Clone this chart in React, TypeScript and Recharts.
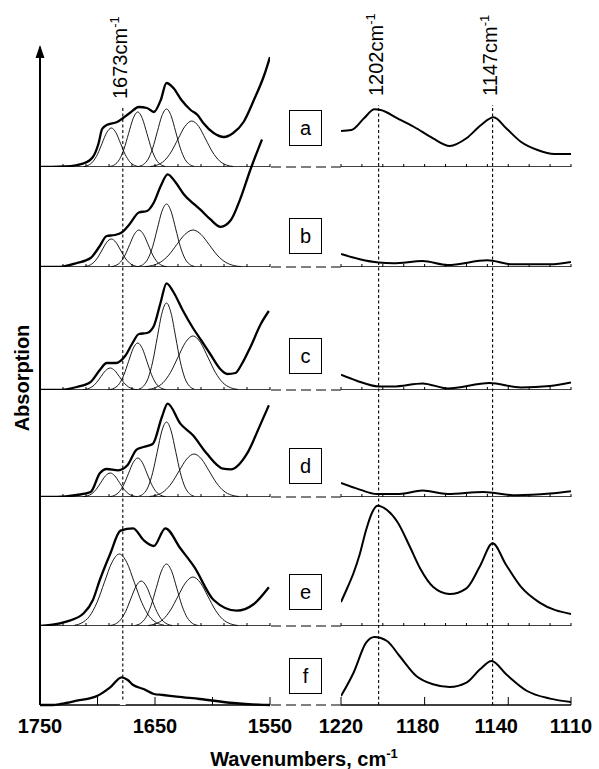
import React from 'react';
import { LineChart, Line, XAxis, YAxis, ReferenceLine } from 'recharts';

type Pt = [number, number];

const FONT = '"Liberation Sans", Arial, Helvetica, sans-serif';

// ---------- axes / ticks ----------
const LEFT_DOMAIN: [number, number] = [1550, 1750];
const RIGHT_DOMAIN: [number, number] = [1110, 1220];
const LEFT_MINOR = [1750, 1730, 1710, 1690, 1670, 1650, 1630, 1610, 1590, 1570, 1550];
const RIGHT_MINOR = [1220, 1210, 1200, 1190, 1180, 1170, 1160, 1150, 1140, 1130, 1120, 1110];
const LEFT_MAJOR = [1700, 1650, 1600, 1550];
const RIGHT_MAJOR = [1220, 1180, 1140, 1110];
const LEFT_LABELS = [1750, 1650, 1550];
const RIGHT_LABELS = [1220, 1180, 1140, 1110];
const PANEL_NAMES = ['a', 'b', 'c', 'd', 'e', 'f'];

// marker lines (position where drawn, label as printed)
const MARKER_LEFT = [1678];
const MARKER_LEFT_TEXT = ['1673'];
const MARKERS_RIGHT = [1202, 1147.5];
const MARKERS_RIGHT_TEXT = ['1202', '1147'];

// ---------- panel a ----------
const A_TOTAL: Pt[] = [[1750,0],[1740,0],[1728,0.5],[1712,3.7],[1704,10],[1699,24],[1696,38],[1692,42],[1683,45],[1672,54],[1664,60],[1657,59],[1651,55],[1645,67],[1640,84],[1634,79],[1627,67],[1619,57],[1613,52],[1608,44],[1599,34],[1590,30],[1582,34],[1573,45],[1564,67],[1555,92],[1550,110]];
const A_C1: Pt[] = [[1712,0.4],[1708,1.7],[1704,5.3],[1700,12.7],[1696,23.7],[1692,34.4],[1688,39],[1684,34.4],[1680,23.7],[1676,12.7],[1672,5.3],[1668,1.7],[1664,0.4]];
const A_C2: Pt[] = [[1689,0.6],[1685,2.4],[1681,7.4],[1677,17.9],[1673,33.4],[1669,48.5],[1665,55],[1661,48.5],[1657,33.4],[1653,17.9],[1649,7.4],[1645,2.4],[1641,0.6]];
const A_C3: Pt[] = [[1664,0.6],[1660,2.6],[1656,7.8],[1652,18.9],[1648,35.2],[1644,51.2],[1640,58],[1636,51.2],[1632,35.2],[1628,18.9],[1624,7.8],[1620,2.6],[1616,0.6]];
const A_C4: Pt[] = [[1654,0.5],[1648,2],[1642,6.2],[1636,15],[1630,27.9],[1624,40.6],[1618,46],[1612,40.6],[1606,27.9],[1600,15],[1594,6.2],[1588,2],[1582,0.5]];
const A_RIGHT: Pt[] = [[1220,36],[1215,37],[1209,48.7],[1204,57.7],[1201,57],[1193,48.7],[1185,40],[1176,28.7],[1168,21],[1160,28.7],[1153,42],[1147,49.7],[1141,38.7],[1134,25.3],[1126,17],[1118,13],[1110,13]];

// ---------- panel b ----------
const B_TOTAL: Pt[] = [[1750,0],[1735,0],[1718,4],[1706,9],[1698,21],[1692,31],[1685,32],[1679,34.5],[1672,43],[1664,54.5],[1657,56],[1651,64.5],[1645,81],[1639,92.7],[1632,84.5],[1625,72.8],[1616,62.8],[1611,57.8],[1602,47.8],[1593,40.2],[1584,47],[1576,67.6],[1567,97.5],[1557,127.5]];
const B_C1: Pt[] = [[1712,0.3],[1708,1.2],[1704,3.8],[1700,9.1],[1696,17],[1692,24.7],[1688,28],[1684,24.7],[1680,17],[1676,9.1],[1672,3.8],[1668,1.2],[1664,0.3]];
const B_C2: Pt[] = [[1688,0.4],[1684,1.6],[1680,5],[1676,12],[1672,22.5],[1668,32.6],[1664,37],[1660,32.6],[1656,22.5],[1652,12],[1648,5],[1644,1.6],[1640,0.4]];
const B_C3: Pt[] = [[1664,0.7],[1660,2.8],[1656,8.5],[1652,20.5],[1648,38.2],[1644,55.6],[1640,63],[1636,55.6],[1632,38.2],[1628,20.5],[1624,8.5],[1620,2.8],[1616,0.7]];
const B_C4: Pt[] = [[1659,0.4],[1652,1.6],[1645,5],[1638,12],[1631,22.5],[1624,32.6],[1617,37],[1610,32.6],[1603,22.5],[1596,12],[1589,5],[1582,1.6],[1575,0.4]];
const B_RIGHT: Pt[] = [[1220,13],[1211,7.7],[1202,4.4],[1195,3.7],[1181,6],[1169,2],[1150,6.7],[1138,2.7],[1120,2.7],[1110,5]];

// ---------- panel c ----------
const C_TOTAL: Pt[] = [[1750,0],[1735,0],[1718,3],[1706,8],[1698,20],[1692,27],[1684,27],[1676,34],[1670,46],[1664,56],[1657,57],[1651,64],[1645,88],[1640,106.7],[1634,98],[1626,80],[1617,62],[1610,50],[1602,36],[1594,22],[1587,16],[1580,17],[1575,25],[1567,43],[1558,66],[1551,79]];
const C_C1: Pt[] = [[1713,0.2],[1709,1],[1705,3],[1701,7.2],[1697,13.4],[1693,19.4],[1689,22],[1685,19.4],[1681,13.4],[1677,7.2],[1673,3],[1669,1],[1665,0.2]];
const C_C2: Pt[] = [[1689,0.5],[1685,2.1],[1681,6.3],[1677,15.3],[1673,28.5],[1669,41.5],[1665,47],[1661,41.5],[1657,28.5],[1653,15.3],[1649,6.3],[1645,2.1],[1641,0.5]];
const C_C3: Pt[] = [[1664,1],[1660,3.8],[1656,11.7],[1652,28.3],[1648,52.8],[1644,76.7],[1640,87],[1636,76.7],[1632,52.8],[1628,28.3],[1624,11.7],[1620,3.8],[1616,1]];
const C_C4: Pt[] = [[1656,0.6],[1649.5,2.4],[1643,7.3],[1636.5,17.6],[1630,32.8],[1623.5,47.6],[1617,54],[1610.5,47.6],[1604,32.8],[1597.5,17.6],[1591,7.3],[1584.5,2.4],[1578,0.6]];
const C_RIGHT: Pt[] = [[1220,15.3],[1212.5,9.3],[1202,3.6],[1195,3.6],[1181,6.6],[1169,1.6],[1149,7],[1134,2.6],[1120,4],[1110,7.6]];

// ---------- panel d ----------
const D_TOTAL: Pt[] = [[1750,0],[1735,0],[1718,2],[1706,5],[1698,23.7],[1692,28],[1682,26.7],[1674,31.7],[1666,47.4],[1660,50],[1652,53],[1644,80],[1639,93.4],[1628,73.4],[1617,61.7],[1605,43.4],[1591,28.4],[1584,27.7],[1570,43.4],[1558,73.4],[1551,91.7]];
const D_C1: Pt[] = [[1713,0.3],[1709,1.1],[1705,3.2],[1701,7.8],[1697,14.6],[1693,21.2],[1689,24],[1685,21.2],[1681,14.6],[1677,7.8],[1673,3.2],[1669,1.1],[1665,0.3]];
const D_C2: Pt[] = [[1689,0.4],[1685,1.7],[1681,5.3],[1677,12.7],[1673,23.7],[1669,34.4],[1665,39],[1661,34.4],[1657,23.7],[1653,12.7],[1649,5.3],[1645,1.7],[1641,0.4]];
const D_C3: Pt[] = [[1664,0.8],[1660,3.3],[1656,10.1],[1652,24.4],[1648,45.5],[1644,66.2],[1640,75],[1636,66.2],[1632,45.5],[1628,24.4],[1624,10.1],[1620,3.3],[1616,0.8]];
const D_C4: Pt[] = [[1655,0.5],[1648.5,1.9],[1642,5.8],[1635.5,14],[1629,26.1],[1622.5,37.9],[1616,43],[1609.5,37.9],[1603,26.1],[1596.5,14],[1590,5.8],[1583.5,1.9],[1577,0.5]];
const D_RIGHT: Pt[] = [[1220,14],[1211,7.4],[1203,3],[1192,3],[1181,6.4],[1169,3],[1152,5],[1136,1.7],[1120,3.4],[1110,5.7]];

// ---------- panel e ----------
const E_TOTAL: Pt[] = [[1750,0],[1741,1],[1727,4.3],[1712,12.7],[1704,26],[1698,46],[1689,72],[1680,95.3],[1669,97.7],[1660,86],[1651,80],[1641,97.7],[1628,77.7],[1616,59.3],[1599,26],[1579,15.3],[1564,22],[1551,38.7]];
const E_C1: Pt[] = [[1720,0.8],[1713.5,3.2],[1707,9.7],[1700.5,23.4],[1694,43.7],[1687.5,63.5],[1681,72],[1674.5,63.5],[1668,43.7],[1661.5,23.4],[1655,9.7],[1648.5,3.2],[1642,0.8]];
const E_C2: Pt[] = [[1689,0.5],[1684.5,2],[1680,6.1],[1675.5,14.6],[1671,27.3],[1666.5,39.7],[1662,45],[1657.5,39.7],[1653,27.3],[1648.5,14.6],[1644,6.1],[1639.5,2],[1635,0.5]];
const E_C3: Pt[] = [[1667,0.7],[1662.5,2.7],[1658,8.4],[1653.5,20.2],[1649,37.6],[1644.5,54.7],[1640,62],[1635.5,54.7],[1631,37.6],[1626.5,20.2],[1622,8.4],[1617.5,2.7],[1613,0.7]];
const E_C4: Pt[] = [[1656,0.5],[1649.5,2.2],[1643,6.6],[1636.5,15.9],[1630,29.7],[1623.5,43.2],[1617,49],[1610.5,43.2],[1604,29.7],[1597.5,15.9],[1591,6.6],[1584.5,2.2],[1578,0.5]];
const E_RIGHT: Pt[] = [[1220,24],[1217,38],[1214,53],[1211,72],[1208,96],[1205,114],[1202.5,120.3],[1198,116],[1193,104],[1187,79],[1182,57],[1176,39.3],[1168,32],[1160,37.7],[1153.5,60],[1147.5,82.7],[1141,61],[1134,39.3],[1125,23.3],[1110,12]];

// ---------- panel f ----------
const F_TOTAL: Pt[] = [[1750,0],[1739,0],[1732,1],[1718,4.3],[1700,9.3],[1689,17.7],[1679,27.7],[1674,25.3],[1669,20],[1660,16],[1651,11],[1643,10],[1631,8.3],[1611,6],[1582,2],[1560,0.3],[1550,0]];
const F_RIGHT: Pt[] = [[1220,9],[1214,32.3],[1208,62.3],[1204,68],[1198,64],[1192,49],[1184,29],[1176,20.7],[1168,18],[1160,22.3],[1153.5,35.7],[1148,44],[1141,30.7],[1131,14],[1120,6.4],[1110,3]];

const PANELS = [
  { left: A_TOTAL, bands: [A_C1, A_C2, A_C3, A_C4], right: A_RIGHT },
  { left: B_TOTAL, bands: [B_C1, B_C2, B_C3, B_C4], right: B_RIGHT },
  { left: C_TOTAL, bands: [C_C1, C_C2, C_C3, C_C4], right: C_RIGHT },
  { left: D_TOTAL, bands: [D_C1, D_C2, D_C3, D_C4], right: D_RIGHT },
  { left: E_TOTAL, bands: [E_C1, E_C2, E_C3, E_C4], right: E_RIGHT },
  { left: F_TOTAL, bands: [] as Pt[][], right: F_RIGHT },
];

// ---------- layout ----------
const BASELINES = [167, 267, 390, 497, 626, 705];
const BOX_TOPS = [110, 218, 338, 448, 574, 658];
const H = 130;
const PAD = 30;
const LEFT_X = 40;
const RIGHT_X = 341;
const PW = 230;
// small horizontal nudges of printed labels, as they sit in the original figure
const LABEL_NUDGE: Record<number, number> = { 1180: -7, 1140: -12 };

const toPts = (arr: Pt[]) => arr.map(([w, h]) => ({ w, h }));

const EmptyTick = () => <g />;

const LabelTick = (props: any) => {
  const { x, y, payload } = props;
  const v = payload?.value;
  const dx = LABEL_NUDGE[v] || 0;
  return (
    <text x={x + dx} y={y} dy={15} textAnchor="middle" fill="#000" fontSize={20} fontWeight={700} fontFamily={FONT}>
      {v}
    </text>
  );
};

function Panel({ side, i }: { side: 'L' | 'R'; i: number }) {
  const p = PANELS[i];
  const isL = side === 'L';
  const last = i === PANELS.length - 1;
  const base = BASELINES[i];
  const extra = last ? 40 : 0;
  const domain = isL ? LEFT_DOMAIN : RIGHT_DOMAIN;
  const ticks = last ? (isL ? LEFT_MAJOR : RIGHT_MAJOR) : isL ? LEFT_MINOR : RIGHT_MINOR;
  const total = isL ? p.left : p.right;
  return (
    <div style={{ position: 'absolute', left: (isL ? LEFT_X : RIGHT_X) - PAD, top: base - H }}>
      <LineChart width={PW + 2 * PAD} height={H + extra} margin={{ top: 0, right: PAD, bottom: 0, left: PAD }}>
        <XAxis
          type="number"
          dataKey="w"
          domain={domain}
          allowDataOverflow
          reversed
          ticks={ticks}
          interval={0}
          mirror
          tick={EmptyTick}
          tickSize={last ? 8 : 3}
          stroke="#000"
          axisLine={{ stroke: '#000', strokeWidth: 1.4 }}
          tickLine={{ stroke: '#000', strokeWidth: 1 }}
        />
        {last && (
          <XAxis
            xAxisId="lab"
            type="number"
            dataKey="w"
            domain={domain}
            allowDataOverflow
            reversed
            ticks={isL ? LEFT_LABELS : RIGHT_LABELS}
            interval={0}
            axisLine={false}
            tickLine={false}
            tickSize={0}
            tickMargin={13}
            height={extra}
            tick={LabelTick}
          />
        )}
        <YAxis type="number" domain={[0, H]} hide />
        {isL &&
          p.bands.map((b, k) => (
            <Line
              key={k}
              data={toPts(b)}
              dataKey="h"
              type="monotone"
              stroke="#000"
              strokeWidth={0.9}
              dot={false}
              activeDot={false}
              isAnimationActive={false}
            />
          ))}
        <Line
          data={toPts(total)}
          dataKey="h"
          type="monotone"
          stroke="#000"
          strokeWidth={isL ? 2.3 : 2}
          dot={false}
          activeDot={false}
          isAnimationActive={false}
        />
      </LineChart>
    </div>
  );
}

const markerLabel = (text: string) => (props: any) => {
  const vb = props.viewBox || { x: 0, y: 0 };
  const px = vb.x + 4.5;
  const py = vb.y - 9;
  return (
    <text x={px} y={py} transform={`rotate(-90 ${px} ${py})`} fill="#000" fontSize={20} fontFamily={FONT}>
      {text}cm
      <tspan dy={-8} fontSize={13}>
        -1
      </tspan>
    </text>
  );
};

const axisTitle = (props: any) => {
  const vb = props.viewBox || { x: 0, y: 47, width: 40, height: 658 };
  const ax = vb.x + vb.width;
  const cx = vb.x + 28.5;
  const cy = vb.y + vb.height / 2 + 2;
  return (
    <g>
      <polygon points={`${ax - 4.5},${vb.y + 11} ${ax},${vb.y - 2} ${ax + 4.5},${vb.y + 11}`} fill="#000" />
      <text
        x={cx}
        y={cy}
        transform={`rotate(-90 ${cx} ${cy})`}
        textAnchor="middle"
        fontSize={20}
        fontWeight={700}
        fontFamily={FONT}
        fill="#000"
      >
        Absorption
      </text>
    </g>
  );
};

function Connector({ y }: { y: number }) {
  return (
    <svg style={{ position: 'absolute', left: LEFT_X + PW + 1, top: y - 2 }} width={RIGHT_X - LEFT_X - PW - 1} height={4}>
      <line x1={0} y1={2} x2={RIGHT_X - LEFT_X - PW - 1} y2={2} stroke="#555" strokeWidth={1.5} strokeDasharray="10 5" />
    </svg>
  );
}

function MarkerOverlay({
  left,
  top,
  domain,
  markers,
  texts,
}: {
  left: number;
  top: number;
  domain: [number, number];
  markers: number[];
  texts: string[];
}) {
  const data = markers.map((w) => ({ w, h: 0 }));
  return (
    <div style={{ position: 'absolute', left: left - PAD, top: 0 }}>
      <LineChart width={PW + 2 * PAD} height={BASELINES[5]} data={data} margin={{ top, left: PAD, right: PAD, bottom: 0 }}>
        <XAxis type="number" dataKey="w" domain={domain} allowDataOverflow reversed hide />
        <YAxis type="number" domain={[0, 1]} allowDataOverflow hide />
        <Line dataKey="h" stroke="none" dot={false} activeDot={false} isAnimationActive={false} />
        {markers.map((m, k) => (
          <ReferenceLine
            key={k}
            x={m}
            stroke="#000"
            strokeWidth={1.1}
            strokeDasharray="3 2.5"
            ifOverflow="visible"
            label={markerLabel(texts[k])}
          />
        ))}
      </LineChart>
    </div>
  );
}

export default function App() {
  return (
    <div style={{ position: 'absolute', left: 0, top: 0, width: 599, height: 769, background: '#fff', fontFamily: FONT }}>
      {/* y axis with arrow and title */}
      <div style={{ position: 'absolute', left: 0, top: 0 }}>
        <LineChart width={60} height={BASELINES[5]} margin={{ top: 47, left: 0, right: 20, bottom: 0 }}>
          <XAxis type="number" domain={[0, 1]} allowDataOverflow hide />
          <YAxis
            type="number"
            domain={[0, 1]}
            allowDataOverflow
            width={40}
            tick={false}
            tickLine={false}
            axisLine={{ stroke: '#000', strokeWidth: 2 }}
            label={axisTitle}
          />
        </LineChart>
      </div>

      {PANEL_NAMES.map((n, i) => (
        <Panel key={'L' + n} side="L" i={i} />
      ))}
      {PANEL_NAMES.map((n, i) => (
        <Panel key={'R' + n} side="R" i={i} />
      ))}
      {BASELINES.map((y, i) => (
        <Connector key={'c' + i} y={y} />
      ))}

      <MarkerOverlay left={LEFT_X} top={108} domain={LEFT_DOMAIN} markers={MARKER_LEFT} texts={MARKER_LEFT_TEXT} />
      <MarkerOverlay left={RIGHT_X} top={105} domain={RIGHT_DOMAIN} markers={MARKERS_RIGHT} texts={MARKERS_RIGHT_TEXT} />

      {/* panel letter boxes */}
      {PANEL_NAMES.map((n, i) => (
        <div
          key={'b' + n}
          style={{
            position: 'absolute',
            left: 289,
            top: BOX_TOPS[i],
            width: 33,
            height: 36,
            border: '1px solid #000',
            boxSizing: 'border-box',
            display: 'flex',
            alignItems: 'center',
            justifyContent: 'center',
            fontSize: 20,
            fontFamily: FONT,
            background: '#fff',
            color: '#000',
          }}
        >
          {n}
        </div>
      ))}

      {/* x title */}
      <div
        style={{
          position: 'absolute',
          left: 0,
          top: 747,
          width: 608,
          textAlign: 'center',
          fontSize: 20,
          lineHeight: '24px',
          fontWeight: 700,
          fontFamily: FONT,
          color: '#000',
        }}
      >
        Wavenumbers, cm<span style={{ position: 'relative', top: -8, fontSize: 13 }}>-1</span>
      </div>
    </div>
  );
}
